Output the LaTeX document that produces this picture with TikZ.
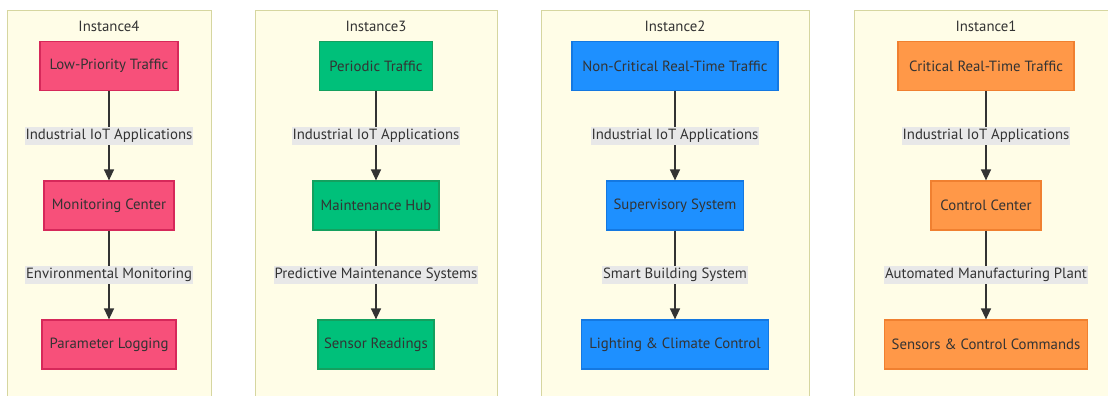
\documentclass[tikz,border=0pt]{standalone}
\usepackage{fontspec}
\setmainfont{PT Sans}
\usetikzlibrary{arrows.meta}
\definecolor{panelfill}{RGB}{255,253,231}
\definecolor{panelline}{RGB}{214,214,160}
\definecolor{pinkf}{RGB}{247,80,122}
\definecolor{pinkd}{RGB}{214,40,90}
\definecolor{greenf}{RGB}{0,192,122}
\definecolor{greend}{RGB}{20,160,95}
\definecolor{bluef}{RGB}{30,144,255}
\definecolor{blued}{RGB}{20,120,225}
\definecolor{orangef}{RGB}{255,152,72}
\definecolor{oranged}{RGB}{240,128,48}
\definecolor{lblbg}{RGB}{232,232,232}
\definecolor{txt}{RGB}{51,51,51}
\tikzset{
  panel/.style={draw=panelline, fill=panelfill, line width=1pt},
  ptitle/.style={text=txt, font=\fontsize{14.8}{16}\selectfont, inner sep=0pt},
  nbox/.style={minimum height=49pt, inner sep=0pt, line width=1.2pt, text=txt, font=\fontsize{14.8}{16}\selectfont},
  pinkbox/.style={nbox, fill=pinkf, draw=pinkd},
  greenbox/.style={nbox, fill=greenf, draw=greend},
  bluebox/.style={nbox, fill=bluef, draw=blued},
  orangebox/.style={nbox, fill=orangef, draw=oranged},
  elabel/.style={fill=lblbg, text=txt, inner sep=1pt, minimum height=18pt, font=\fontsize{14.8}{16}\selectfont},
  conn/.style={draw=txt, line width=1.4pt, -{Triangle[length=11pt,width=10pt]}}
}
\begin{document}
\begin{tikzpicture}[x=1pt,y=-1pt]
\useasboundingbox (0,0) rectangle (1108,396);
\clip (0,0) rectangle (1108,396);
\fill[white] (0,0) rectangle (1108,396);
% panels
\draw[panel] (7,11) rectangle (211,410);
\draw[panel] (255,11) rectangle (497,410);
\draw[panel] (541,11) rectangle (809,410);
\draw[panel] (854,11) rectangle (1120,410);
% titles
\node[ptitle] (t4) at (109,26) {Instance4};
\node[ptitle] (t3) at (376,26) {Instance3};
\node[ptitle] (t2) at (675,26) {Instance2};
\node[ptitle] (t1) at (986,26) {Instance1};
% Instance4
\node[pinkbox, minimum width=138pt] (a1) at (109,66) {Low-Priority Traffic};
\node[pinkbox, minimum width=130pt] (a2) at (109,205.5) {Monitoring Center};
\node[pinkbox, minimum width=134pt] (a3) at (109,344.5) {Parameter Logging};
% Instance3
\node[greenbox, minimum width=113pt] (b1) at (376,66) {Periodic Traffic};
\node[greenbox, minimum width=126pt] (b2) at (376,205.5) {Maintenance Hub};
\node[greenbox, minimum width=116pt] (b3) at (376,344.5) {Sensor Readings};
% Instance2
\node[bluebox, minimum width=206pt] (c1) at (675,66) {Non-Critical Real-Time Traffic};
\node[bluebox, minimum width=137pt] (c2) at (675,205.5) {Supervisory System};
\node[bluebox, minimum width=187pt] (c3) at (675,344.5) {Lighting \& Climate Control};
% Instance1
\node[orangebox, minimum width=176pt] (d1) at (986,66) {Critical Real-Time Traffic};
\node[orangebox, minimum width=110pt] (d2) at (986,205.5) {Control Center};
\node[orangebox, minimum width=203pt] (d3) at (986,344.5) {Sensors \& Control Commands};
% connectors
\draw[conn] (a1) -- (a2) node[elabel, pos=0.5] (la1) {Industrial IoT Applications};
\draw[conn] (a2) -- (a3) node[elabel, pos=0.5] (la2) {Environmental Monitoring};
\draw[conn] (b1) -- (b2) node[elabel, pos=0.5] (lb1) {Industrial IoT Applications};
\draw[conn] (b2) -- (b3) node[elabel, pos=0.5] (lb2) {Predictive Maintenance Systems};
\draw[conn] (c1) -- (c2) node[elabel, pos=0.5] (lc1) {Industrial IoT Applications};
\draw[conn] (c2) -- (c3) node[elabel, pos=0.5] (lc2) {Smart Building System};
\draw[conn] (d1) -- (d2) node[elabel, pos=0.5] (ld1) {Industrial IoT Applications};
\draw[conn] (d2) -- (d3) node[elabel, pos=0.5] (ld2) {Automated Manufacturing Plant};
\end{tikzpicture}
\end{document}
